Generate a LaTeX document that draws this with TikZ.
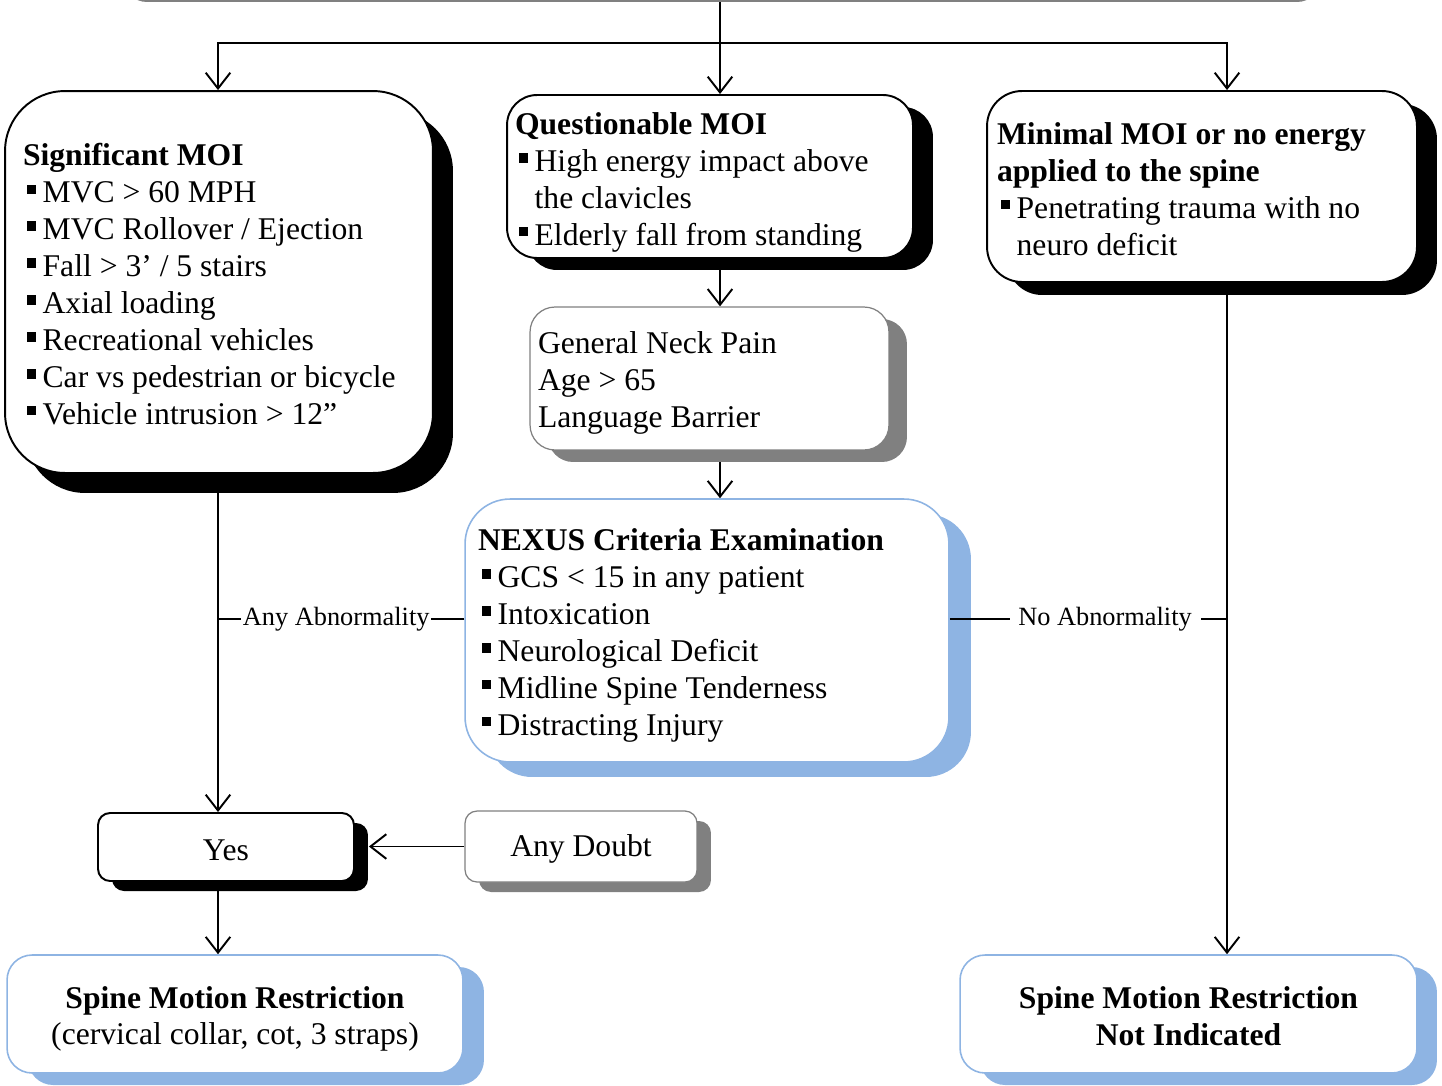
\documentclass[tikz,border=0pt]{standalone}
\usepackage{fontspec}
\setmainfont{Liberation Serif}
\usepackage{tikz}
\usetikzlibrary{arrows.meta, shadows, backgrounds}

\definecolor{skyblue}{HTML}{8EB4E3}
\definecolor{shadegrey}{HTML}{808080}
\newcommand{\bul}{\hspace*{0.12em}\rule[0.28em]{0.3em}{0.3em}\hspace{0.2em}}
\newcommand{\cont}{\hspace*{0.62em}}
\newcommand{\headroom}[1]{\rule{0pt}{#1}}

\begin{document}
\begin{tikzpicture}
      [
        x=0.02cm, y=-0.02cm,
        >={Straight Barb[length=9pt,width=14pt]},
        flow/.style={line width=1.1pt},
        box/.style={rounded corners=#1, fill=white, font=\fontsize{18}{21}\selectfont},
        darkbox/.style 2 args={draw=black, line width=1.1pt,
          general shadow={fill=black, shadow xshift=#1, shadow yshift=-#2}},
        greybox/.style 2 args={draw=shadegrey, line width=0.7pt,
          general shadow={fill=shadegrey, shadow xshift=#1, shadow yshift=-#2}},
        bluebox/.style 2 args={draw=skyblue, line width=0.9pt,
          general shadow={fill=skyblue, shadow xshift=#1, shadow yshift=-#2}},
        textbox/.style 2 args={align=left, text width=#1, inner xsep=#2,
          execute at begin node={\spaceskip=0pt\xspaceskip=0pt\relax}},
        tag/.style={fill=white, inner ysep=1pt, font=\fontsize{15}{18}\selectfont}
      ]
      \useasboundingbox (0,0) rectangle (1442,1085);
      % columns and rows
      \coordinate (lx) at (218,0);
      \coordinate (cx) at (720,0);
      \coordinate (rx) at (1227,0);
      \coordinate (split) at (720,43);
      \coordinate (abn) at (0,619);
      % boxes
      \node [box=0.5cm, greybox={0.04cm}{0.24cm}, minimum width=24cm, minimum height=1.2cm]
        (top) at (720,-40) {};
      \node [box=1.2cm, darkbox={0.4cm}{0.4cm}, textbox={7.84cm}{0.36cm}, minimum height=7.64cm]
        (sig) at (219,282)
        {\headroom{15.2pt}\textbf{Significant MOI}\\
         \bul MVC > 60 MPH\\
         \bul MVC Rollover / Ejection\\
         \bul Fall > 3’ / 5 stairs\\
         \bul Axial loading\\
         \bul Recreational vehicles\\
         \bul Car vs pedestrian or bicycle\\
         \bul Vehicle intrusion > 12”};
      \node [box=0.6cm, darkbox={0.4cm}{0.24cm}, textbox={7.8cm}{0.16cm}, minimum height=3.26cm]
        (quest) at (710,176.5)
        {\headroom{19.2pt}\textbf{Questionable MOI}\\
         \bul High energy impact above\\
         \cont the clavicles\\
         \bul Elderly fall from standing};
      \node [box=0.7cm, darkbox={0.4cm}{0.26cm}, textbox={8.2cm}{0.2cm}, minimum height=3.82cm]
        (minim) at (1202,186.5)
        {\headroom{15.2pt}\textbf{Minimal MOI or no energy}\\
         \textbf{applied to the spine}\\
         \bul Penetrating trauma with no\\
         \cont neuro deficit};
      \node [box=0.5cm, greybox={0.36cm}{0.24cm}, textbox={6.86cm}{0.16cm}, minimum height=2.86cm]
        (neck) at (709.5,378.5)
        {\headroom{17.5pt}General Neck Pain\\
         Age > 65\\
         Language Barrier};
      \node [box=0.9cm, bluebox={0.44cm}{0.3cm}, textbox={9.16cm}{0.26cm}, minimum height=5.26cm]
        (nexus) at (707,630.5)
        {\headroom{18pt}\textbf{NEXUS Criteria Examination}\\
         \bul GCS < 15 in any patient\\
         \bul Intoxication\\
         \bul Neurological Deficit\\
         \bul Midline Spine Tenderness\\
         \bul Distracting Injury};
      \node [box=0.24cm, darkbox={0.28cm}{0.2cm}, minimum width=5.12cm, minimum height=1.36cm]
        (yes) at (226,847) {\headroom{15.5pt}Yes};
      \node [box=0.24cm, greybox={0.28cm}{0.2cm}, minimum width=4.64cm, minimum height=1.42cm]
        (doubt) at (581,846.5) {\headroom{14.7pt}Any Doubt};
      \node [box=0.5cm, bluebox={0.42cm}{0.24cm}, align=center, minimum width=9.12cm, minimum height=2.36cm]
        (smr) at (235,1014)
        {\headroom{18pt}\textbf{Spine Motion Restriction}\\(cervical collar, cot, 3 straps)};
      \node [box=0.5cm, bluebox={0.4cm}{0.24cm}, align=center, minimum width=9.14cm, minimum height=2.36cm]
        (smrno) at (1188.5,1014)
        {\headroom{14.7pt}\textbf{Spine Motion Restriction}\\\textbf{Not Indicated}};
      \coordinate (yesedge) at ([xshift=0.28cm]yes.east);
      % flow lines
      \begin{pgfonlayer}{background}
        \draw [flow, ->] (top.south -| cx) -- (quest.north -| cx);
        \draw [flow, ->] (split) -| (sig.north -| lx);
        \draw [flow, ->] (split) -| (minim.north -| rx);
        \draw [flow, ->] (quest.south -| cx) -- (neck.north -| cx);
        \draw [flow, ->] (neck.south -| cx) -- (nexus.north -| cx);
        \draw [flow, ->] (sig.south -| lx) -- (yes.north -| lx);
        \draw [flow, ->] (yes.south -| lx) -- (smr.north -| lx);
        \draw [flow, ->] (minim.south -| rx) -- (smrno.north -| rx);
      \end{pgfonlayer}
      % outcome branches
      \draw [flow] (nexus.west |- abn) -- node [tag, pos=0.52, inner xsep=1pt] {Any Abnormality} (lx |- abn);
      \draw [flow] (nexus.east |- abn) -- node [tag, pos=0.56, inner xsep=5pt] {No Abnormality} (rx |- abn);
      \draw [flow, ->] (doubt.west) -- (yesedge |- doubt.west);
\end{tikzpicture}
\end{document}
